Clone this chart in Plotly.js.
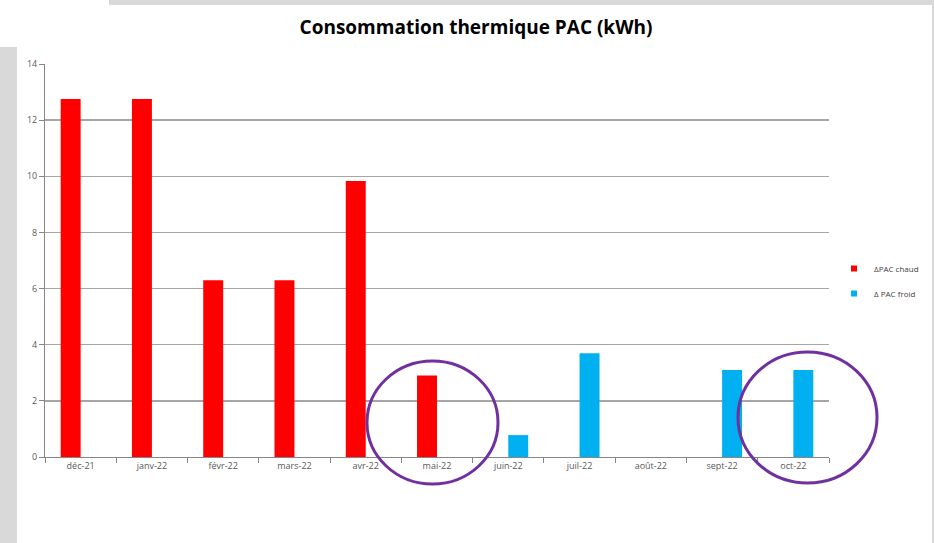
<!DOCTYPE html>
<html>
<head>
<meta charset="utf-8">
<script src="https://cdn.plot.ly/plotly-3.0.1.min.js"></script>
<style>
html,body{margin:0;padding:0;background:#fff;}
#chart{width:934px;height:543px;}
</style>
</head>
<body>
<div id="chart"></div>
<script>
var months = ["déc-21","janv-22","févr-22","mars-22","avr-22","mai-22","juin-22","juil-22","août-22","sept-22","oct-22"];
var chaud = [12.75, 12.75, 6.3, 6.3, 9.83, 2.9, null, null, null, null, null];
var froid = [null, null, null, null, null, null, 0.78, 3.7, null, 3.1, 3.1];
var seriesNames = ["ΔPAC chaud", "Δ PAC froid"];
var seriesColors = ['#ff0000', '#00b0f0'];
var yTicks = [0, 2, 4, 6, 8, 10, 12, 14];

var L = 45, R = 829, T = 64, B = 457;
function px(x){ return (x - L) / (R - L); }
function py(y){ return (B - y) / (B - T); }

var traces = [
  {type:'bar', name:seriesNames[0], x:months, y:chaud, marker:{color:seriesColors[0]}, showlegend:false},
  {type:'bar', name:seriesNames[1], x:months, y:froid, marker:{color:seriesColors[1]}, showlegend:false},
  {type:'scatter', mode:'markers', name:seriesNames[0], legendgroup:'a', x:[months[0]], y:[null], marker:{symbol:'square', size:6, color:seriesColors[0]}, showlegend:true},
  {type:'scatter', mode:'markers', name:seriesNames[1], legendgroup:'b', x:[months[0]], y:[null], marker:{symbol:'square', size:6, color:seriesColors[1]}, showlegend:true}
];

var grey = '#d9d9d9';
var purple = '#7030a0';
var layout = {
  width:934, height:543,
  margin:{l:L, r:934-R, t:T, b:543-B, pad:0, autoexpand:false},
  paper_bgcolor:'#ffffff', plot_bgcolor:'#ffffff',
  font:{family:'"Open Sans", "Liberation Sans", sans-serif', color:'#595959'},
  title:{text:'<b>Consommation thermique PAC (kWh)</b>', x:476/934, xref:'container', xanchor:'center', y:0.95, yanchor:'middle',
         font:{size:19, color:'#000000', family:'"Open Sans", "Liberation Sans", sans-serif'}},
  barmode:'group', bargap:0.44, bargroupgap:0,
  showlegend:true,
  legend:{x:px(834), y:py(254), xanchor:'left', yanchor:'top', font:{size:8, color:'#404040'},
          bgcolor:'rgba(0,0,0,0)', itemwidth:30, tracegroupgap:6},
  xaxis:{type:'category', range:[-0.5, months.length - 0.5], autorange:false, showgrid:false, showline:true, linecolor:'#868686', linewidth:1,
         ticks:'outside', ticklen:5, tickcolor:'#868686', tickson:'boundaries',
         tickfont:{size:9, color:'#595959'}, fixedrange:true},
  yaxis:{range:[0,14], tickvals:yTicks, showgrid:true, gridcolor:'#a6a6a6', gridwidth:1.5,
         showline:true, linecolor:'#868686', linewidth:1, ticks:'outside', ticklen:5, tickcolor:'#868686',
         tickfont:{size:9, color:'#595959'}, zeroline:false, fixedrange:true},
  shapes:[
    {type:'rect', xref:'paper', yref:'paper', x0:px(0), x1:px(17), y0:py(543), y1:py(47), fillcolor:grey, line:{width:0}, layer:'below'},
    {type:'rect', xref:'paper', yref:'paper', x0:px(109), x1:px(934), y0:py(5), y1:py(0), fillcolor:grey, line:{width:0}, layer:'below'},
    {type:'rect', xref:'paper', yref:'paper', x0:px(932), x1:px(934), y0:py(543), y1:py(0), fillcolor:grey, line:{width:0}, layer:'below'},
    {type:'circle', xref:'paper', yref:'paper', x0:px(367), x1:px(498), y0:py(484), y1:py(361), line:{color:purple, width:3}},
    {type:'circle', xref:'paper', yref:'paper', x0:px(738), x1:px(877), y0:py(483), y1:py(352), line:{color:purple, width:3}}
  ]
};

Plotly.newPlot('chart', traces, layout, {displayModeBar:false, staticPlot:true});
</script>
</body>
</html>
